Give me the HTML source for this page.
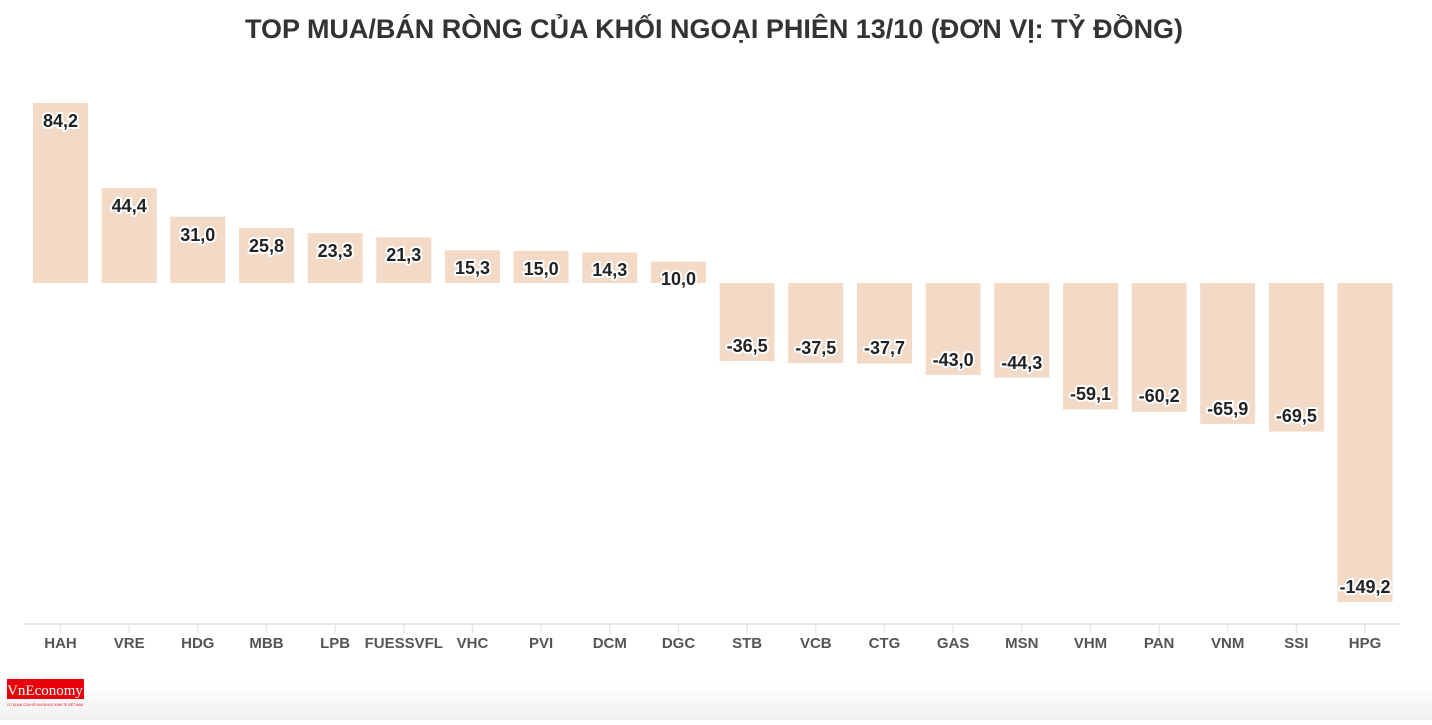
<!DOCTYPE html>
<html><head><meta charset="utf-8"><style>
body{margin:0;background:#fff;width:1432px;height:720px;overflow:hidden;font-family:"Liberation Sans",sans-serif}
</style></head><body>
<svg width="1432" height="720" xmlns="http://www.w3.org/2000/svg" font-family="Liberation Sans, sans-serif">
<defs><linearGradient id="g" x1="0" y1="0" x2="0" y2="1"><stop offset="0" stop-color="#fff"/><stop offset="1" stop-color="#f0f0f0"/></linearGradient></defs>
<rect x="0" y="685" width="1432" height="35" fill="url(#g)"/>
<text x="714" y="38" text-anchor="middle" font-size="27" font-weight="bold" fill="#333" textLength="938" lengthAdjust="spacingAndGlyphs">TOP MUA/BÁN RÒNG CỦA KHỐI NGOẠI PHIÊN 13/10 (ĐƠN VỊ: TỶ ĐỒNG)</text>
<g fill="#f2dac6">
<rect x="33" y="103" width="55" height="180"/>
<rect x="101.7" y="188.1" width="55" height="94.9"/>
<rect x="170.3" y="216.7" width="55" height="66.3"/>
<rect x="239" y="227.8" width="55" height="55.2"/>
<rect x="307.6" y="233.2" width="55" height="49.8"/>
<rect x="376.3" y="237.5" width="55" height="45.5"/>
<rect x="445" y="250.3" width="55" height="32.7"/>
<rect x="513.6" y="250.9" width="55" height="32.1"/>
<rect x="582.3" y="252.4" width="55" height="30.6"/>
<rect x="651" y="261.6" width="55" height="21.4"/>
<rect x="719.6" y="283" width="55" height="78"/>
<rect x="788.3" y="283" width="55" height="80.2"/>
<rect x="857" y="283" width="55" height="80.6"/>
<rect x="925.6" y="283" width="55" height="91.9"/>
<rect x="994.3" y="283" width="55" height="94.7"/>
<rect x="1063" y="283" width="55" height="126.4"/>
<rect x="1131.6" y="283" width="55" height="128.7"/>
<rect x="1200.2" y="283" width="55" height="140.9"/>
<rect x="1268.9" y="283" width="55" height="148.6"/>
<rect x="1337.5" y="283" width="55" height="319"/>
</g>
<g font-size="18" font-weight="bold" fill="#222" text-anchor="middle" stroke="#fff" stroke-width="4" paint-order="stroke" stroke-linejoin="round">
<text x="60.5" y="127">84,2</text>
<text x="129.2" y="212">44,4</text>
<text x="197.8" y="241">31,0</text>
<text x="266.5" y="252">25,8</text>
<text x="335.1" y="257">23,3</text>
<text x="403.8" y="261">21,3</text>
<text x="472.5" y="274">15,3</text>
<text x="541.1" y="275">15,0</text>
<text x="609.8" y="276">14,3</text>
<text x="678.5" y="285">10,0</text>
<text x="747.1" y="352">-36,5</text>
<text x="815.8" y="354">-37,5</text>
<text x="884.5" y="354">-37,7</text>
<text x="953.1" y="366">-43,0</text>
<text x="1021.8" y="369">-44,3</text>
<text x="1090.5" y="400">-59,1</text>
<text x="1159.1" y="402">-60,2</text>
<text x="1227.7" y="415">-65,9</text>
<text x="1296.4" y="422">-69,5</text>
<text x="1365" y="593">-149,2</text>
</g>
<line x1="25" y1="624" x2="1400" y2="624" stroke="#e6e6e6" stroke-width="2"/>
<g stroke="#e6e6e6" stroke-width="1.5">
<line x1="60.5" y1="624" x2="60.5" y2="633"/><line x1="129.2" y1="624" x2="129.2" y2="633"/><line x1="197.8" y1="624" x2="197.8" y2="633"/><line x1="266.5" y1="624" x2="266.5" y2="633"/><line x1="335.1" y1="624" x2="335.1" y2="633"/><line x1="403.8" y1="624" x2="403.8" y2="633"/><line x1="472.5" y1="624" x2="472.5" y2="633"/><line x1="541.1" y1="624" x2="541.1" y2="633"/><line x1="609.8" y1="624" x2="609.8" y2="633"/><line x1="678.5" y1="624" x2="678.5" y2="633"/><line x1="747.1" y1="624" x2="747.1" y2="633"/><line x1="815.8" y1="624" x2="815.8" y2="633"/><line x1="884.5" y1="624" x2="884.5" y2="633"/><line x1="953.1" y1="624" x2="953.1" y2="633"/><line x1="1021.8" y1="624" x2="1021.8" y2="633"/><line x1="1090.5" y1="624" x2="1090.5" y2="633"/><line x1="1159.1" y1="624" x2="1159.1" y2="633"/><line x1="1227.7" y1="624" x2="1227.7" y2="633"/><line x1="1296.4" y1="624" x2="1296.4" y2="633"/><line x1="1365" y1="624" x2="1365" y2="633"/>
</g>
<g font-size="15" font-weight="bold" fill="#555" text-anchor="middle">
<text x="60.5" y="648">HAH</text><text x="129.2" y="648">VRE</text><text x="197.8" y="648">HDG</text><text x="266.5" y="648">MBB</text><text x="335.1" y="648">LPB</text><text x="403.8" y="648">FUESSVFL</text><text x="472.5" y="648">VHC</text><text x="541.1" y="648">PVI</text><text x="609.8" y="648">DCM</text><text x="678.5" y="648">DGC</text><text x="747.1" y="648">STB</text><text x="815.8" y="648">VCB</text><text x="884.5" y="648">CTG</text><text x="953.1" y="648">GAS</text><text x="1021.8" y="648">MSN</text><text x="1090.5" y="648">VHM</text><text x="1159.1" y="648">PAN</text><text x="1227.7" y="648">VNM</text><text x="1296.4" y="648">SSI</text><text x="1365" y="648">HPG</text>
</g>
<rect x="7" y="679" width="77" height="20" fill="#e8000b"/>
<text x="45" y="695" text-anchor="middle" font-family="Liberation Serif, serif" font-size="15" fill="#fff">VnEconomy</text>
<text x="45" y="706" text-anchor="middle" font-size="4" fill="#e8000b" textLength="76" lengthAdjust="spacingAndGlyphs">CƠ QUAN CỦA HỘI KHOA HỌC KINH TẾ VIỆT NAM</text>
</svg>
</body></html>
